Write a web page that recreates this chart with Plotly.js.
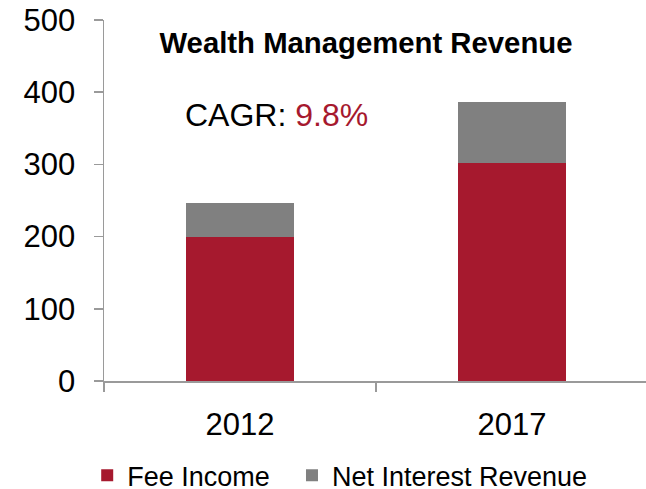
<!DOCTYPE html>
<html>
<head>
<meta charset="utf-8">
<script src="https://cdn.plot.ly/plotly-3.0.1.min.js"></script>
<style>html,body{margin:0;padding:0;background:#fff;overflow:hidden;}</style>
</head>
<body>
<div id="chart" style="width:646px;height:489px;"></div>
<script>
var years = ["2012", "2017"];
var feeIncome = [200, 302];
var netInterestRevenue = [47, 84];
var seriesNames = ["Fee Income", "Net Interest Revenue"];
var chartTitle = "Wealth Management Revenue";
var cagrLabel = "CAGR: ";
var cagrValue = "9.8%";
var yTicks = [0, 100, 200, 300, 400, 500];

var RED = "#A6192E", GREY = "#808080", AXIS = "#9a9a9a";
var FONT = "Liberation Sans, Arial, sans-serif";

var traces = [
  {type: "bar", name: seriesNames[0], x: years, y: feeIncome, legend: "legend",
   marker: {color: RED, line: {width: 0}}},
  {type: "bar", name: seriesNames[1], x: years, y: netInterestRevenue, legend: "legend2",
   marker: {color: GREY, line: {width: 0}}}
];

function legendAt(x) {
  return {orientation: "h", traceorder: "normal", x: x, xanchor: "left", xref: "container",
          y: 0.027, yref: "container", yanchor: "middle",
          font: {family: FONT, size: 27, color: "#000"}, bgcolor: "rgba(0,0,0,0)"};
}

var layout = {
  width: 646, height: 489,
  margin: {l: 104, r: 0, t: 20, b: 108, pad: 0},
  paper_bgcolor: "#fff", plot_bgcolor: "#fff",
  font: {family: FONT, color: "#000", size: 31},
  barmode: "stack", bargap: 0.6,
  showlegend: true,
  title: {text: "<b>" + chartTitle + "</b>", font: {family: FONT, size: 29.3, color: "#000"},
          x: 0.4834, xref: "paper", xanchor: "center",
          y: 0.912, yref: "container", yanchor: "middle"},
  xaxis: {type: "category", range: [-0.5, 1.4926], fixedrange: true,
          showline: true, linecolor: AXIS, linewidth: 1.5,
          ticks: "outside", tickson: "boundaries", ticklen: 9, tickcolor: AXIS, tickwidth: 1.5,
          ticklabelstandoff: 15,
          tickfont: {family: FONT, size: 31, color: "#000"}, showgrid: false, zeroline: false},
  yaxis: {range: [0, 500], tickvals: yTicks, fixedrange: true,
          showline: true, linecolor: AXIS, linewidth: 1.5,
          ticks: "outside", ticklen: 9, tickcolor: AXIS, tickwidth: 1.5,
          ticklabelstandoff: 12,
          tickfont: {family: FONT, size: 31, color: "#000"}, showgrid: false, zeroline: false},
  legend: legendAt(0.135),
  legend2: legendAt(0.452),
  annotations: [{
    text: cagrLabel + "<span style='color:" + RED + "'>" + cagrValue + "</span>",
    xref: "paper", yref: "paper", x: 0.1458, y: 0.7368, xanchor: "left", yanchor: "middle",
    showarrow: false, font: {family: FONT, size: 32, color: "#000"}
  }]
};

Plotly.newPlot("chart", traces, layout, {displayModeBar: false, staticPlot: true});
</script>
</body>
</html>
